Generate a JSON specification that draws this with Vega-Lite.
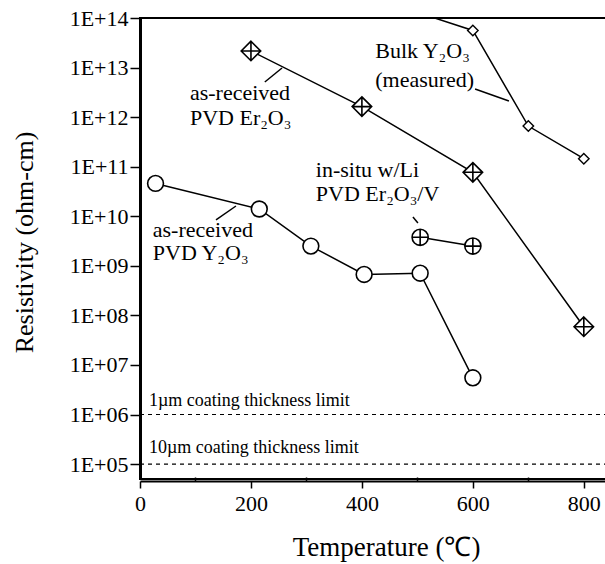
{
  "$schema": "https://vega.github.io/schema/vega-lite/v6.json",
  "width": 466,
  "height": 461,
  "autosize": {"type": "none"},
  "padding": {"left": 140, "top": 18, "right": 0, "bottom": 85},
  "background": "white",
  "config": {
    "font": "Liberation Serif",
    "view": {"stroke": "black", "strokeWidth": 2},
    "text": {"font": "Liberation Serif", "color": "black"}
  },
  "datasets": {
    "points": [
      {"series": "Y2O3", "T": 28, "R": 4.6e10},
      {"series": "Y2O3", "T": 215, "R": 1.4e10},
      {"series": "Y2O3", "T": 308, "R": 2.5e9},
      {"series": "Y2O3", "T": 404, "R": 6.7e8},
      {"series": "Y2O3", "T": 505, "R": 7.1e8},
      {"series": "Y2O3", "T": 600, "R": 5.5e6},
      {"series": "Er2O3", "T": 200, "R": 2.16e13},
      {"series": "Er2O3", "T": 400, "R": 1.63e12},
      {"series": "Er2O3", "T": 600, "R": 7.7e10},
      {"series": "Er2O3", "T": 800, "R": 5.9e7},
      {"series": "insitu", "T": 505, "R": 3.76e9},
      {"series": "insitu", "T": 600, "R": 2.5e9},
      {"series": "bulk", "T": 500, "R": 1.3e14},
      {"series": "bulk", "T": 600, "R": 5.6e13},
      {"series": "bulk", "T": 700, "R": 6.6e11},
      {"series": "bulk", "T": 800, "R": 1.45e11}
    ],
    "limits": [
      {"T": 0, "T2": 840, "R": 1e6},
      {"T": 0, "T2": 840, "R": 1e5}
    ],
    "leaders": [
      {"T": 225, "R": 5.12e12, "T2": 256, "R2": 9.79e12},
      {"T": 137, "R": 8.41e9, "T2": 173, "R2": 1.61e10},
      {"T": 604, "R": 3.7e12, "T2": 665, "R2": 2.11e12},
      {"T": 492, "R": 9.66e9, "T2": 501, "R2": 7.31e9}
    ],
    "labels": [
      {"T": 90, "R": 2.22e12, "text": "as-received", "kind": "big"},
      {"T": 90, "R": 6.93e11, "text": "PVD Er₂O₃", "kind": "big"},
      {"T": 424, "R": 1.56e13, "text": "Bulk Y₂O₃", "kind": "big"},
      {"T": 424, "R": 4.06e12, "text": "(measured)", "kind": "big"},
      {"T": 317, "R": 6.2e10, "text": "in-situ w/Li", "kind": "big"},
      {"T": 317, "R": 2.03e10, "text": "PVD Er₂O₃/V", "kind": "big"},
      {"T": 23, "R": 3.82e9, "text": "as-received", "kind": "big"},
      {"T": 23, "R": 1.31e9, "text": "PVD Y₂O₃", "kind": "big"},
      {"T": 16, "R": 1.49e6, "text": "1µm coating thickness limit", "kind": "small"},
      {"T": 16, "R": 1.67e5, "text": "10µm coating thickness limit", "kind": "small"}
    ]
  },
  "encoding": {
    "x": {
      "field": "T",
      "type": "quantitative",
      "scale": {"domain": [0, 840], "nice": false, "zero": false},
      "axis": {
        "title": "Temperature (℃)",
        "titleFont": "Liberation Serif",
        "titleFontSize": 27,
        "titleFontWeight": "normal",
        "titleColor": "black",
        "titlePadding": 20,
        "titleX": 246,
        "titleAnchor": "start",
        "titleAlign": "center",
        "values": [0, 100, 200, 300, 400, 500, 600, 700, 800],
        "labelExpr": "datum.value % 200 === 0 ? datum.label : ''",
        "labelFont": "Liberation Serif",
        "labelFontSize": 22,
        "labelColor": "black",
        "labelPadding": 5,
        "labelFlush": false,
        "labelOverlap": false,
        "tickSize": {"condition": {"test": "datum.value % 200 === 0", "value": 7}, "value": -4},
        "tickColor": "black",
        "tickWidth": 1.5,
        "domainColor": "black",
        "domainWidth": 2,
        "offset": 2,
        "grid": false
      }
    },
    "y": {
      "field": "R",
      "type": "quantitative",
      "scale": {"type": "log", "domain": [50000, 1e14], "nice": false},
      "axis": {
        "title": "Resistivity (ohm-cm)",
        "titleFont": "Liberation Serif",
        "titleFontSize": 26,
        "titleFontWeight": "normal",
        "titleColor": "black",
        "titlePadding": 32,
        "titleY": 224,
        "values": [1e5, 1e6, 1e7, 1e8, 1e9, 1e10, 1e11, 1e12, 1e13, 1e14],
        "labelExpr": "'1E+' + (round(log(datum.value) / LN10) < 10 ? '0' : '') + round(log(datum.value) / LN10)",
        "labelFont": "Liberation Serif",
        "labelFontSize": 22,
        "labelColor": "black",
        "labelPadding": 2,
        "labelFlush": false,
        "labelOverlap": false,
        "tickSize": 10,
        "tickColor": "black",
        "tickWidth": 1.5,
        "domainColor": "black",
        "domainWidth": 3,
        "grid": false
      }
    }
  },
  "layer": [
    {
      "data": {"name": "limits"},
      "mark": {"type": "rule", "color": "black", "strokeWidth": 1.2, "strokeDash": [4, 4]},
      "encoding": {"x2": {"field": "T2"}}
    },
    {
      "data": {"name": "points"},
      "mark": {"type": "line", "color": "black", "strokeWidth": 1.5, "clip": true},
      "encoding": {"detail": {"field": "series"}}
    },
    {
      "data": {"name": "leaders"},
      "mark": {"type": "rule", "color": "black", "strokeWidth": 1.5},
      "encoding": {"x2": {"field": "T2"}, "y2": {"field": "R2"}}
    },
    {
      "data": {"name": "points"},
      "transform": [{"filter": "datum.series === 'Y2O3'"}],
      "mark": {"type": "point", "shape": "circle", "size": 250, "filled": true, "fill": "white", "stroke": "black", "strokeWidth": 1.6, "opacity": 1, "clip": true}
    },
    {
      "data": {"name": "points"},
      "transform": [{"filter": "datum.series === 'Er2O3'"}],
      "mark": {"type": "point", "shape": "M0,-1L1,0L0,1L-1,0ZM0,-1L0,1M-1,0L1,0", "size": 380, "filled": true, "fill": "white", "stroke": "black", "strokeWidth": 1.6, "opacity": 1, "clip": true}
    },
    {
      "data": {"name": "points"},
      "transform": [{"filter": "datum.series === 'insitu'"}],
      "mark": {"type": "point", "shape": "M-1,0A1,1,0,1,1,1,0A1,1,0,1,1,-1,0ZM0,-1L0,1M-1,0L1,0", "size": 260, "filled": true, "fill": "white", "stroke": "black", "strokeWidth": 1.6, "opacity": 1, "clip": true}
    },
    {
      "data": {"name": "points"},
      "transform": [{"filter": "datum.series === 'bulk'"}],
      "mark": {"type": "point", "shape": "M0,-1L1,0L0,1L-1,0Z", "size": 110, "filled": true, "fill": "white", "stroke": "black", "strokeWidth": 1.4, "opacity": 1, "clip": true}
    },
    {
      "data": {"name": "labels"},
      "transform": [{"filter": "datum.kind === 'big'"}],
      "mark": {"type": "text", "align": "left", "baseline": "alphabetic", "fontSize": 22, "font": "Liberation Serif"},
      "encoding": {"text": {"field": "text"}}
    },
    {
      "data": {"name": "labels"},
      "transform": [{"filter": "datum.kind === 'small'"}],
      "mark": {"type": "text", "align": "left", "baseline": "alphabetic", "fontSize": 18, "font": "Liberation Serif"},
      "encoding": {"text": {"field": "text"}}
    }
  ]
}
